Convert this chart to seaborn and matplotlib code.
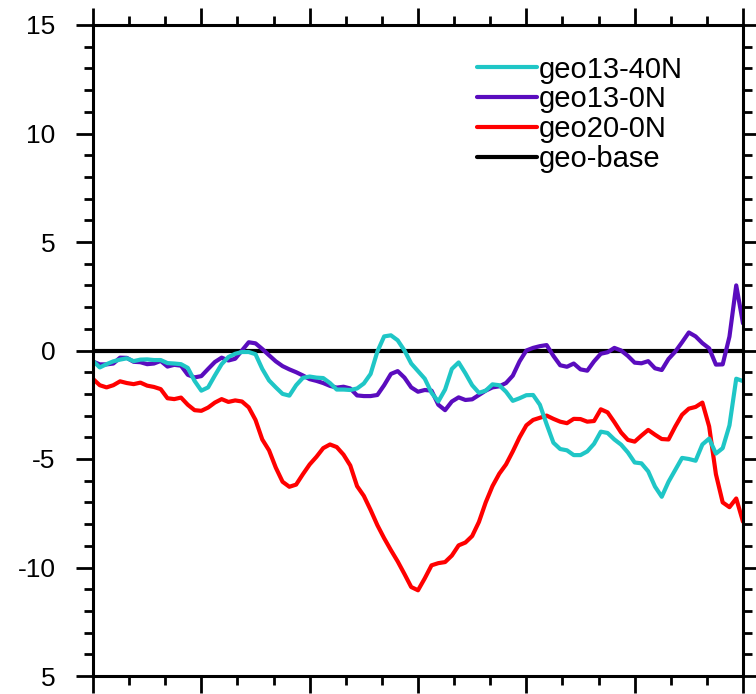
import numpy as np
import pandas as pd
import matplotlib
matplotlib.use("Agg")
import matplotlib.pyplot as plt
from matplotlib.lines import Line2D
from matplotlib.ticker import MultipleLocator, FixedLocator
import seaborn as sns

# ---------------- data ----------------
geo13_40N = [-0.48, -0.78, -0.63, -0.50, -0.42, -0.36, -0.49, -0.42, -0.41, -0.44,
             -0.44, -0.58, -0.60, -0.63, -0.80, -1.40, -1.85, -1.70, -1.15, -0.63,
             -0.30, -0.15, -0.07, -0.07, -0.17, -0.85, -1.38, -1.70, -2.00, -2.08,
             -1.60, -1.26, -1.20, -1.25, -1.27, -1.50, -1.80, -1.80, -1.82, -1.75,
             -1.52, -1.08, -0.05, 0.65, 0.70, 0.47, 0.00, -0.60, -0.95, -1.30,
             -1.95, -2.35, -1.80, -0.85, -0.55, -1.05, -1.60, -1.95, -1.85, -1.56,
             -1.60, -1.90, -2.32, -2.20, -2.06, -2.05, -2.50, -3.40, -4.25, -4.54,
             -4.60, -4.82, -4.82, -4.65, -4.30, -3.74, -3.80, -4.10, -4.34, -4.70,
             -5.16, -5.20, -5.57, -6.27, -6.74, -6.05, -5.50, -4.95, -5.00, -5.08,
             -4.33, -4.06, -4.75, -4.50, -3.45, -1.30, -1.41]

geo13_0N = [-0.51, -0.64, -0.64, -0.60, -0.33, -0.34, -0.52, -0.54, -0.63, -0.60,
            -0.48, -0.74, -0.66, -0.70, -1.12, -1.24, -1.18, -0.85, -0.53, -0.33,
            -0.46, -0.38, 0.00, 0.38, 0.33, 0.07, -0.22, -0.50, -0.72, -0.87,
            -1.00, -1.15, -1.32, -1.40, -1.50, -1.63, -1.71, -1.67, -1.75, -2.07,
            -2.10, -2.10, -2.05, -1.60, -1.08, -0.95, -1.25, -1.70, -1.90, -1.82,
            -1.85, -2.50, -2.75, -2.35, -2.16, -2.28, -2.25, -2.05, -1.85, -1.70,
            -1.65, -1.50, -1.16, -0.50, 0.00, 0.12, 0.20, 0.25, -0.25, -0.68,
            -0.75, -0.60, -0.87, -0.93, -0.50, -0.15, -0.08, 0.12, 0.00, -0.25,
            -0.56, -0.59, -0.49, -0.82, -0.90, -0.39, -0.05, 0.38, 0.83, 0.65,
            0.34, 0.10, -0.65, -0.64, 0.64, 3.00, 1.25]

geo20_0N = [-1.31, -1.60, -1.70, -1.60, -1.42, -1.50, -1.55, -1.48, -1.62, -1.68,
            -1.78, -2.20, -2.24, -2.17, -2.50, -2.75, -2.78, -2.63, -2.40, -2.24,
            -2.37, -2.30, -2.35, -2.62, -3.20, -4.10, -4.60, -5.40, -6.05, -6.28,
            -6.18, -5.70, -5.25, -4.90, -4.50, -4.33, -4.45, -4.80, -5.30, -6.25,
            -6.70, -7.35, -8.05, -8.65, -9.20, -9.72, -10.30, -10.90, -11.05, -10.50,
            -9.90, -9.80, -9.75, -9.45, -8.98, -8.85, -8.55, -7.90, -7.00, -6.25,
            -5.68, -5.25, -4.65, -4.00, -3.45, -3.20, -3.10, -3.00, -3.15, -3.28,
            -3.35, -3.15, -3.16, -3.28, -3.25, -2.71, -2.85, -3.30, -3.78, -4.12,
            -4.20, -3.92, -3.66, -3.88, -4.08, -4.10, -3.50, -2.96, -2.68, -2.60,
            -2.40, -3.50, -5.70, -7.00, -7.22, -6.82, -7.89]

geo_base = [0.0] * 97

series_names = ["geo13-40N", "geo13-0N", "geo20-0N", "geo-base"]
series_colors = ["#1fc6c6", "#5a0cbe", "#ff0000", "#000000"]
ytick_values = [-15, -10, -5, 0, 5, 10, 15]
ytick_labels = ["5", "-10", "-5", "0", "5", "10", "15"]

step = list(range(len(geo_base)))
df = pd.DataFrame({
    "step": step * 4,
    "value": geo13_40N + geo13_0N + geo20_0N + geo_base,
    "series": sum([[n] * len(step) for n in series_names], []),
})

# ---------------- figure ----------------
sns.set_style("ticks")
plt.rcParams["font.family"] = ["Liberation Sans", "DejaVu Sans"]
plt.rcParams["text.color"] = "black"
plt.rcParams["axes.edgecolor"] = "black"
plt.rcParams["xtick.color"] = "black"
plt.rcParams["ytick.color"] = "black"
plt.rcParams["xtick.labelcolor"] = "black"
plt.rcParams["ytick.labelcolor"] = "black"

fig = plt.figure(figsize=(7.56, 6.94), dpi=100)
ax = fig.add_axes([93 / 756, 18 / 694, 650 / 756, 651 / 694])

palette = dict(zip(series_names, series_colors))
draw_order = ["geo-base", "geo20-0N", "geo13-0N", "geo13-40N"]
for name in draw_order:
    sub = df[df["series"] == name]
    sns.lineplot(data=sub, x="step", y="value", color=palette[name],
                 lw=3.0, ax=ax, legend=False, solid_joinstyle="round")

ax.set_xlim(0, 96)
ax.set_ylim(-15, 15)
ax.set_xlabel("")
ax.set_ylabel("")
ax.xaxis.set_major_locator(MultipleLocator(16))
ax.xaxis.set_minor_locator(MultipleLocator(16 / 3))
ax.yaxis.set_major_locator(FixedLocator(ytick_values))
ax.yaxis.set_minor_locator(MultipleLocator(1))
ax.set_yticklabels(ytick_labels)

for s in ax.spines.values():
    s.set_linewidth(2.2)
    s.set_color("black")
    s.set_visible(True)
ax.tick_params(which="both", direction="out", top=True, right=True,
               labelbottom=False, labeltop=False, labelright=False, width=2.0,
               color="black", labelcolor="black")
ax.tick_params(which="major", length=12, labelsize=19, pad=15)
ax.tick_params(which="minor", length=6.5)

handles = [Line2D([0], [0], color=c, lw=3.0) for c in series_colors]
leg = fig.legend(handles, series_names, loc="upper left",
                 bbox_to_anchor=(477 / 756, 1 - 55.5 / 694), bbox_transform=fig.transFigure,
                 frameon=False, fontsize=21, handlelength=2.05, handletextpad=0.05,
                 labelspacing=0.06, borderpad=0, borderaxespad=0)
for t in leg.get_texts():
    t.set_color("black")

fig.savefig("out.png", dpi=100)
